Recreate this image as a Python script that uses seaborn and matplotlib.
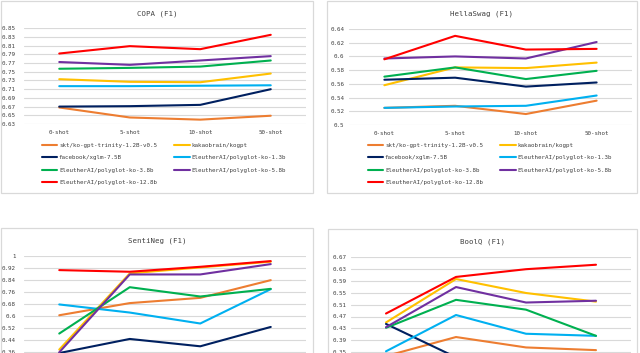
import numpy as np
import pandas as pd
import matplotlib
matplotlib.use("Agg")
import matplotlib.pyplot as plt
from matplotlib.patches import Rectangle
from matplotlib.lines import Line2D
import seaborn as sns

shots = ["0-shot", "5-shot", "10-shot", "50-shot"]
models = ["skt/ko-gpt-trinity-1.2B-v0.5", "kakaobrain/kogpt", "facebook/xglm-7.5B",
          "EleutherAI/polyglot-ko-1.3b", "EleutherAI/polyglot-ko-3.8b",
          "EleutherAI/polyglot-ko-5.8b", "EleutherAI/polyglot-ko-12.8b"]
colors = ["#ED7D31", "#FFC000", "#002060", "#00B0F0", "#00B050", "#7030A0", "#FF0000"]

copa_f1 = [[0.668, 0.645, 0.640, 0.649],
           [0.733, 0.727, 0.726, 0.746],
           [0.670, 0.671, 0.674, 0.710],
           [0.717, 0.717, 0.718, 0.719],
           [0.757, 0.759, 0.762, 0.776],
           [0.7725, 0.766, 0.776, 0.786],
           [0.792, 0.809, 0.802, 0.835]]
hellaswag_f1 = [[0.525, 0.528, 0.516, 0.5355],
                [0.558, 0.584, 0.583, 0.591],
                [0.566, 0.569, 0.556, 0.562],
                [0.525, 0.527, 0.528, 0.543],
                [0.5705, 0.584, 0.567, 0.579],
                [0.597, 0.600, 0.597, 0.621],
                [0.5958, 0.630, 0.610, 0.611]]
sentineg_f1 = [[0.607, 0.688, 0.723, 0.841],
               [0.378, 0.886, 0.926, 0.964],
               [0.355, 0.449, 0.400, 0.529],
               [0.679, 0.625, 0.552, 0.781],
               [0.485, 0.794, 0.732, 0.783],
               [0.360, 0.879, 0.879, 0.948],
               [0.908, 0.897, 0.930, 0.968]]
boolq_f1 = [[0.337, 0.401, 0.366, 0.357],
            [0.450, 0.596, 0.549, 0.520],
            [0.445, 0.333, 0.330, 0.330],
            [0.353, 0.475, 0.412, 0.405],
            [0.432, 0.526, 0.493, 0.405],
            [0.434, 0.569, 0.517, 0.523],
            [0.480, 0.603, 0.629, 0.644]]

copa_ticks = [0.63, 0.65, 0.67, 0.69, 0.71, 0.73, 0.75, 0.77, 0.79, 0.81, 0.83, 0.85]
hellaswag_ticks = [0.5, 0.52, 0.54, 0.56, 0.58, 0.6, 0.62, 0.64]
sentineg_ticks = [0.36, 0.44, 0.52, 0.6, 0.68, 0.76, 0.84, 0.92, 1.0]
boolq_ticks = [0.35, 0.39, 0.43, 0.47, 0.51, 0.55, 0.59, 0.63, 0.67]
sentineg_ymin = 0.2
boolq_ymin = 0.27

sns.set_style("white")
plt.rcParams["font.family"] = ["DejaVu Sans Mono"]

W, H = 640, 353
fig = plt.figure(figsize=(W / 100, H / 100), dpi=100)
fig.patch.set_facecolor("white")

def rect(x0, x1, ytop, ybot):
    return [x0 / W, 1 - ybot / H, (x1 - x0) / W, (ybot - ytop) / H]

def box(x0, y0, x1, y1):
    r = Rectangle((x0 / W, 1 - y1 / H), (x1 - x0) / W, (y1 - y0) / H,
                  transform=fig.transFigure, fill=False, edgecolor="#d9d9d9",
                  linewidth=0.9, zorder=0)
    fig.patches.append(r)

box(1, 1, 313, 193)
box(327, 1, 637, 193)
box(1, 228, 313, 400)
box(328, 229, 637, 400)

palette = dict(zip(models, colors))
txt = "#404040"

def fmt(v):
    return f"{v:.2f}".rstrip("0").rstrip(".")

def panel(pos, data, ticks, title, title_xy, ypad, ymin=None, show_x=True):
    ax = fig.add_axes(rect(*pos))
    rows = []
    for m, vals in zip(models, data):
        for s, v in zip(shots, vals):
            rows.append({"shot": s, "value": v, "model": m})
    df = pd.DataFrame(rows)
    sns.lineplot(data=df, x="shot", y="value", hue="model", hue_order=models,
                 palette=palette, sort=False, ax=ax, linewidth=1.5, legend=False)
    ax.set_xlim(-0.5, 3.5)
    ax.set_ylim(ticks[0] if ymin is None else ymin, ticks[-1])
    ax.set_yticks(ticks)
    ax.set_yticklabels([fmt(t) for t in ticks])
    if not show_x:
        ax.set_xticks([])
    ax.set_xlabel("")
    ax.set_ylabel("")
    for sp in ax.spines.values():
        sp.set_visible(False)
    ax.yaxis.grid(True, color="#d9d9d9", linewidth=0.8)
    ax.xaxis.grid(False)
    ax.set_axisbelow(True)
    ax.tick_params(axis="y", length=0, pad=ypad, labelsize=4.2, labelcolor=txt)
    ax.tick_params(axis="x", length=0, pad=4.5, labelsize=4.2, labelcolor=txt)
    ax.patch.set_alpha(0)
    fig.text(title_xy[0] / W, 1 - title_xy[1] / H, title, ha="center", va="center",
             fontsize=5.3, color="#404040")
    return ax

panel((24, 306, 28.3, 124), copa_f1, copa_ticks, "COPA (F1)", (157, 14), 6)
panel((349, 632, 29, 125), hellaswag_f1, hellaswag_ticks, "HellaSwag (F1)", (482, 14), 3.5)
panel((24, 306, 256.3, 376.3), sentineg_f1, sentineg_ticks, "SentiNeg (F1)", (157, 241), 6,
      ymin=sentineg_ymin, show_x=False)
panel((351, 631, 257, 376), boolq_f1, boolq_ticks, "BoolQ (F1)", (482, 242), 3.5,
      ymin=boolq_ymin, show_x=False)

handles = [Line2D([0], [0], color=c, lw=1.5) for c in colors]
order = [0, 2, 4, 6, 1, 3, 5]
for lx in (42, 368):
    fig.legend([handles[i] for i in order], [models[i] for i in order],
               loc="upper left", bbox_to_anchor=(lx / W, 1 - 143 / H),
               bbox_transform=fig.transFigure, ncol=2, frameon=False,
               fontsize=4.2, labelcolor=txt, handlelength=2.6, handletextpad=0.3,
               columnspacing=3.0, labelspacing=1.25, borderpad=0, borderaxespad=0)

fig.savefig("out.png", dpi=100, facecolor="white")
